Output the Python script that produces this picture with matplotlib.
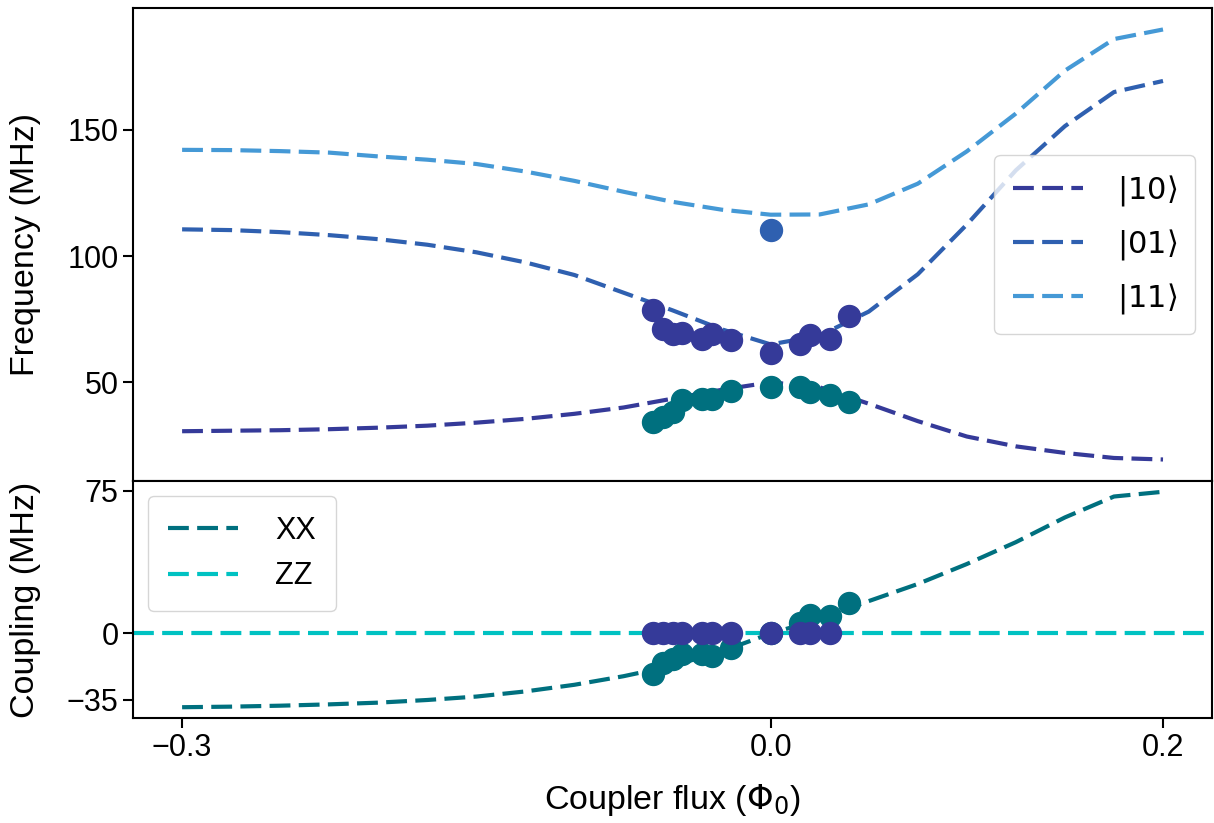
import matplotlib
matplotlib.use("Agg")
import matplotlib.pyplot as plt
import numpy as np

plt.rcParams['font.family'] = ['Liberation Sans', 'DejaVu Sans']
plt.rcParams['mathtext.fontset'] = 'dejavusans'
plt.rcParams['axes.linewidth'] = 1.5

# model curves (flux in Phi_0, values in MHz)
flux = [-0.3, -0.275, -0.25, -0.225, -0.2, -0.175, -0.15, -0.125, -0.1, -0.075, -0.05,
        -0.025, 0.0, 0.025, 0.05, 0.075, 0.1, 0.125, 0.15, 0.175, 0.2]
f10 = [30.6, 30.8, 31.0, 31.4, 32.0, 32.8, 34.0, 35.5, 37.5, 40.0, 43.5,
       47.0, 50.0, 48.0, 41.5, 34.6, 28.5, 24.6, 22.0, 20.0, 19.4]
f01 = [110.6, 110.3, 109.5, 108.3, 106.7, 104.5, 101.5, 97.5, 92.5, 85.5, 78.5,
       71.0, 65.0, 68.5, 78.0, 92.8, 112.5, 134.0, 151.5, 165.0, 169.4]
f11 = [142.1, 142.0, 141.6, 141.0, 139.5, 138.2, 136.5, 133.5, 129.8, 125.5, 121.5,
       118.4, 116.4, 116.5, 120.5, 128.7, 141.5, 156.5, 173.5, 186.0, 189.8]
xx = [-38.8, -38.5, -38.0, -37.3, -36.4, -35.0, -33.2, -30.5, -27.0, -22.5, -17.0,
      -9.5, 0.0, 7.5, 17.0, 26.0, 36.5, 48.0, 61.0, 72.0, 74.5]
zz_level = 0.0

# measured points
flux_meas = [-0.06, -0.055, -0.05, -0.045, -0.035, -0.03, -0.02, 0.0, 0.015, 0.02, 0.03, 0.04]
upper_meas = [78.5, 71.0, 69.1, 69.7, 67.1, 69.3, 66.7, 61.4, 65.1, 68.7, 67.1, 76.3]
lower_meas = [34.3, 36.2, 38.2, 42.8, 43.5, 43.5, 46.7, 48.3, 48.0, 46.1, 45.0, 42.1]
xx_meas = [-21.5, -15.3, -13.6, -11.0, -11.0, -11.9, -7.5, 0.0, 5.6, 9.9, 9.1, 16.1]
flux_zz = [-0.06, -0.055, -0.05, -0.045, -0.035, -0.03, -0.02, 0.0, 0.015, 0.02, 0.03]
zz_meas = [0.0, 0.0, 0.0, 0.0, 0.0, 0.0, 0.0, 0.0, 0.0, 0.0, 0.0]
flux_11 = [0.0]
f11_meas = [110.5]

c10 = '#353a99'
c01 = '#2f60b0'
c11 = '#4599d6'
cxx = '#00707f'
czz = '#00c2c2'

fig = plt.figure(figsize=(12.14, 8.23), dpi=100)
gs = fig.add_gridspec(2, 1, height_ratios=[473, 237], hspace=0,
                      left=0.1096, right=0.9984, top=0.9903, bottom=0.1276)
ax1 = fig.add_subplot(gs[0])
ax2 = fig.add_subplot(gs[1], sharex=ax1)

dash = (0, (5, 2))
lw = 3

ax1.plot(flux, f10, ls=dash, lw=lw, color=c10, label=r'$|10\rangle$')
ax1.plot(flux, f01, ls=dash, lw=lw, color=c01, label=r'$|01\rangle$')
ax1.plot(flux, f11, ls=dash, lw=lw, color=c11, label=r'$|11\rangle$')
ax1.scatter(flux_meas, lower_meas, s=250, color=cxx, zorder=3)
ax1.scatter(flux_meas, upper_meas, s=250, color=c10, zorder=3)
ax1.scatter(flux_11, f11_meas, s=250, color=c01, zorder=3)
ax1.set_yticks([50, 100, 150])
ax1.set_ylabel('Frequency (MHz)', fontsize=24.5)
ax1.tick_params(axis='x', which='both', bottom=False, labelbottom=False)
ax1.tick_params(axis='y', labelsize=22, length=7, width=1.5)
ax1.legend(loc='center right', fontsize=22, handlelength=2.3, borderpad=0.6,
           labelspacing=0.62, handletextpad=1.1, borderaxespad=0.55)

ax2.plot(flux, xx, ls=dash, lw=lw, color=cxx, label='XX')
ax2.axhline(zz_level, ls=dash, lw=lw, color=czz, label='ZZ')
ax2.scatter(flux_meas, xx_meas, s=250, color=cxx, zorder=3)
ax2.scatter(flux_zz, zz_meas, s=250, color=c10, zorder=4)
ax2.set_yticks([-35, 0, 75])
ax2.set_xticks([-0.3, 0.0, 0.2])
ax2.set_xticklabels(['\u22120.3', '0.0', '0.2'])
ax2.set_yticklabels(['\u221235', '0', '75'])
ax2.set_ylabel('Coupling (MHz)', fontsize=24.5)
ax2.set_xlabel(r'Coupler flux ($\Phi_0$)', fontsize=24.5, labelpad=14)
ax2.tick_params(labelsize=22, length=7, width=1.5)
ax2.legend(loc='upper left', fontsize=22, handlelength=2.3, borderpad=0.65,
           labelspacing=0.5, handletextpad=1.2, borderaxespad=0.5)

ax1.yaxis.set_label_coords(-0.085, 0.5)
ax2.yaxis.set_label_coords(-0.085, 0.5)

fig.savefig('out.png', dpi=100)
